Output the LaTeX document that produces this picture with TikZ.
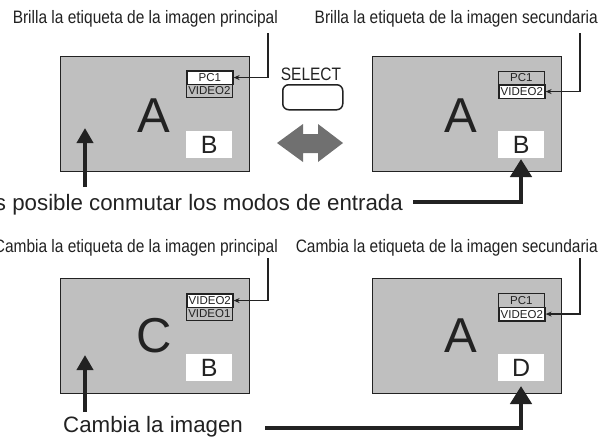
\documentclass[tikz,border=0pt]{standalone}
\usepackage{fontspec}
\setmainfont{Liberation Sans}
\newfontfamily\narrowfont[FakeStretch=0.86]{Liberation Sans}
\usetikzlibrary{arrows.meta}
\definecolor{scr}{HTML}{BFBFBF}
\definecolor{ink}{HTML}{222222}
\definecolor{dbl}{HTML}{707070}
\begin{document}
\begin{tikzpicture}[x=1pt,y=-1pt,
  screen/.style={draw=ink, line width=1.2pt, fill=scr, minimum width=189pt, minimum height=115pt, anchor=north west, inner sep=0pt},
  big/.style={font=\fontsize{49}{49}\selectfont, text=ink, anchor=base, inner sep=0pt},
  pip/.style={fill=white, minimum width=46pt, minimum height=27pt, anchor=north west, inner sep=0pt, font=\fontsize{25}{25}\selectfont, text=ink},
  rowoff/.style={draw=ink, line width=0.8pt, fill=scr, minimum width=46pt, minimum height=13.5pt, anchor=north west, inner sep=0pt, font=\fontsize{11.5}{11.5}\selectfont, text=ink},
  rowon/.style={rowoff, fill=white, line width=1.6pt},
  lab/.style={font=\narrowfont\fontsize{18}{18}\selectfont, text=ink, inner sep=0pt, anchor=base east},
  maintext/.style={font=\fontsize{22.3}{22.3}\selectfont, text=ink, inner sep=0pt},
  conn/.style={draw=ink, line width=1.3pt, -{Stealth[length=6pt,width=5pt]}},
  bigarrow/.style={draw=ink, line width=4.5pt, line join=miter, -{Triangle[length=15pt,width=16pt]}},
  bigarrowr/.style={bigarrow, -{Triangle[length=18pt,width=21pt]}}
]
\useasboundingbox (0,0) rectangle (616,437);

% ---- labels
\node[lab] (lab1) at (278,23) {Brilla la etiqueta de la imagen principal};
\node[lab] (lab2) at (598,23) {Brilla la etiqueta de la imagen secundaria};
\node[lab] (lab3) at (278,252) {Cambia la etiqueta de la imagen principal};
\node[lab] (lab4) at (598,252) {Cambia la etiqueta de la imagen secundaria};

% ---- screens
\node[screen] (s1) at (60,56) {};
\node[screen] (s2) at (372,56) {};
\node[screen] (s3) at (60,278) {};
\node[screen] (s4) at (372,278) {};

% big letters
\node[big] (s1l) at (154,132) {A};
\node[big] (s2l) at (461,132) {A};
\node[big] (s3l) at (154,352) {C};
\node[big] (s4l) at (461,352) {A};

% sub pictures
\node[pip] (s1p) at (186,131) {B};
\node[pip] (s2p) at (498,131) {B};
\node[pip] (s3p) at (186,354) {B};
\node[pip] (s4p) at (498,354) {D};

% label boxes
\node[rowoff] (s1b) at (186,83.5) {VIDEO2};
\node[rowon]  (s1a) at (186,70) {PC1};
\node[rowoff] (s2a) at (498,70.5) {PC1};
\node[rowon]  (s2b) at (498,84) {VIDEO2};
\node[rowoff] (s3b) at (186,306.5) {VIDEO1};
\node[rowon]  (s3a) at (186,293) {VIDEO2};
\node[rowoff] (s4a) at (498,293) {PC1};
\node[rowon]  (s4b) at (498,306.5) {VIDEO2};

% thin connectors
\coordinate (c1) at (268,33);
\coordinate (c2) at (580,33);
\coordinate (c3) at (268,258);
\coordinate (c4) at (580,258);
\draw[conn] (c1) |- (s1a.east);
\draw[conn] (c2) |- (s2b.east);
\draw[conn] (c3) |- (s3a.east);
\draw[conn] (c4) |- (s4b.east);

% SELECT button
\node[font=\narrowfont\fontsize{18}{18}\selectfont, text=ink, inner sep=0pt, anchor=base] (sel) at (311,80) {SELECT};
\node[draw=ink, line width=1.5pt, rounded corners=6pt, minimum width=60pt, minimum height=25pt, anchor=north west, inner sep=0pt] (btn) at (282,84) {};

% gray double arrow
\fill[dbl] (277,143) -- (303,124) -- (303,134) -- (318,134) -- (318,124) -- (343,143)
  -- (318,162) -- (318,153) -- (303,153) -- (303,162) -- cycle;

% main texts
\node[maintext, anchor=base east] (t1) at (403,210) {Es posible conmutar los modos de entrada};
\node[maintext, anchor=base west] (t2) at (63,432) {Cambia la imagen};

% thick arrows
\coordinate (u1a) at (85,187);
\coordinate (u1b) at (85,128);
\draw[bigarrow] (u1a) -- (u1b);
\coordinate (u3a) at (85,412);
\coordinate (u3b) at (85,355);
\draw[bigarrow] (u3a) -- (u3b);

\coordinate (k1) at (413,202);
\coordinate (k1t) at (521,159);
\draw[bigarrowr] (k1) -| (k1t);
\coordinate (k2) at (265,428);
\coordinate (k2t) at (521,386);
\draw[bigarrowr] (k2) -| (k2t);
\end{tikzpicture}
\end{document}
